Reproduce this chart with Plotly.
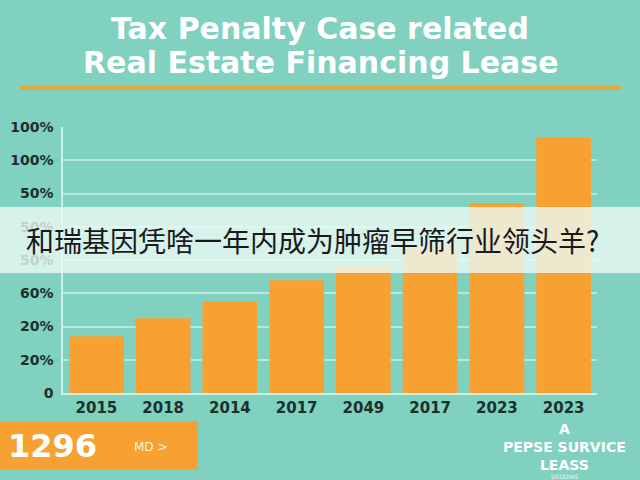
import plotly.graph_objects as go

# Data
year_labels = ["2015", "2018", "2014", "2017", "2049", "2017", "2023", "2023"]
values = [1.71, 2.25, 2.76, 3.39, 3.81, 4.4, 5.7, 7.68]
y_tick_vals = [0, 1, 2, 3, 4, 5, 6, 7, 8]
y_tick_text = ["0", "20%", "20%", "60%", "50%", "50%", "50%", "100%", "100%"]

title_lines = ["Tax Penalty Case related", "Real Estate Financing Lease"]
banner_text = "和瑞基因凭啥一年内成为肿瘤早筛行业领头羊?"
corner_lines = ["A", "PEPSE SURVICE", "LEASS"]

BG = "#80d1bf"
ORANGE = "#f7a132"
DARK = "#1c2f2b"

L, R, T, B = 63, 43, 127, 87
PW, PH = 640 - L - R, 480 - T - B


def px(x):
    return (x - L) / PW


def py(y):
    return (480 - B - y) / PH


x_pos = list(range(len(year_labels)))

fig = go.Figure()
fig.add_trace(go.Bar(
    x=x_pos, y=values,
    marker=dict(color=ORANGE, line=dict(width=0)),
    width=0.82,
    hoverinfo="skip",
))

fig.update_layout(
    width=640, height=480,
    paper_bgcolor=BG, plot_bgcolor=BG,
    margin=dict(l=L, r=R, t=T, b=B, autoexpand=False),
    showlegend=False,
    font=dict(family="DejaVu Sans", color=DARK),
    xaxis=dict(
        tickmode="array", tickvals=x_pos, ticktext=year_labels,
        range=[-0.5, len(year_labels) - 0.5], automargin=False,
        showgrid=False, zeroline=False,
        showline=True, linecolor="#c8f0e6", linewidth=2,
        ticks="", tickfont=dict(size=15, color=DARK, family="DejaVu Sans", weight="bold"),
        ticklabelstandoff=0,
    ),
    yaxis=dict(
        tickmode="array", tickvals=y_tick_vals, ticktext=y_tick_text,
        range=[0, 8], automargin=False,
        showgrid=True, gridcolor="#b5e9dd", gridwidth=1.5,
        zeroline=False, showline=True, linecolor="#c8f0e6", linewidth=1.5,
        ticks="", tickfont=dict(size=14, color=DARK, family="DejaVu Sans", weight="bold"),
        ticklabelstandoff=5,
    ),
)

# Title (two lines)
for line, yy in zip(title_lines, [29, 62]):
    fig.add_annotation(
        text="<b>" + line + "</b>",
        xref="paper", yref="paper", x=px(320), xanchor="center",
        y=py(yy), yanchor="middle",
        showarrow=False, align="center",
        font=dict(size=30, color="white", family="DejaVu Sans"),
    )
# Orange rule under title
fig.add_shape(type="line", xref="paper", yref="paper",
              x0=px(20), x1=px(621), y0=py(88), y1=py(88),
              line=dict(color="#e8a838", width=4), layer="above")

# Banner
fig.add_shape(type="rect", xref="paper", yref="paper",
              x0=px(0), x1=px(640), y0=py(273), y1=py(207),
              fillcolor="rgba(235,250,245,0.80)", line=dict(width=0), layer="above")
fig.add_annotation(
    text=banner_text, xref="paper", yref="paper",
    x=px(24), xanchor="left", y=py(240), yanchor="middle",
    showarrow=False,
    font=dict(size=28, color="#1a1a1a", family="Noto Sans CJK SC"),
)

# Bottom-left orange box
fig.add_shape(type="rect", xref="paper", yref="paper",
              x0=px(0), x1=px(198), y0=py(470), y1=py(421),
              fillcolor=ORANGE, line=dict(width=0), layer="above")
fig.add_annotation(
    text="<b>1296</b>", xref="paper", yref="paper",
    x=px(6), xanchor="left", y=py(446), yanchor="middle",
    showarrow=False, font=dict(size=32, color="white", family="DejaVu Sans"),
)
fig.add_annotation(
    text="MD >", xref="paper", yref="paper",
    x=px(132), xanchor="left", y=py(447), yanchor="middle",
    showarrow=False, font=dict(size=12, color="#fff3dc", family="DejaVu Sans"),
)

# Bottom-right text (single block)
fig.add_annotation(
    text="<b>" + "<br>".join(corner_lines) + "</b>", xref="paper", yref="paper",
    x=px(564), xanchor="center", y=py(447), yanchor="middle",
    showarrow=False, align="center", borderpad=0,
    font=dict(size=14, color="white", family="DejaVu Sans"),
)
fig.add_annotation(
    text="DSGUIAS", xref="paper", yref="paper",
    x=px(564), xanchor="center", y=py(476), yanchor="middle",
    showarrow=False, borderpad=0,
    font=dict(size=6, color="#eafaf6", family="DejaVu Sans"),
)

fig.write_html(
    "out.html",
    config={"displayModeBar": False},
    post_script="document.body.style.margin='0';document.body.style.background='#80d1bf';",
)
